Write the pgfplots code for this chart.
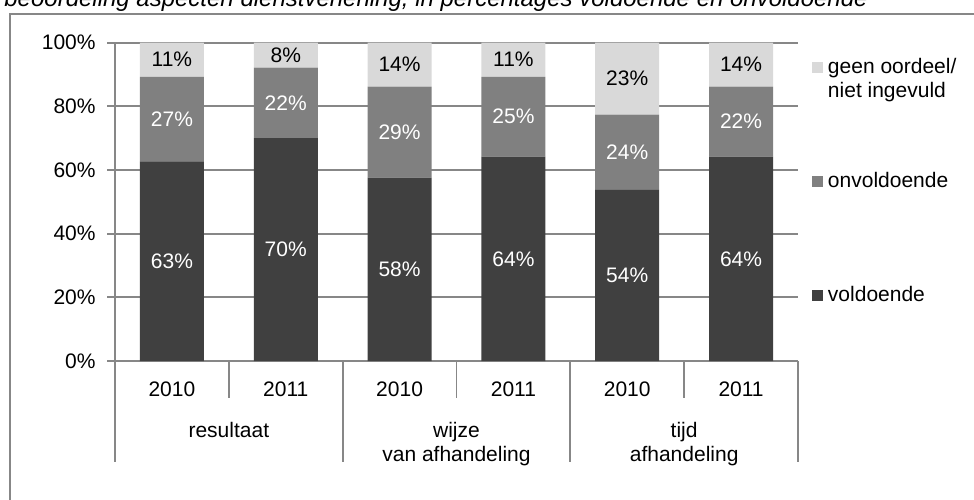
\documentclass[border=0pt]{standalone}
\usepackage{pgfplots}
\pgfplotsset{compat=1.18}
\usepackage{pgfplotstable}
\usepackage{fontspec}
\setmainfont{Liberation Sans}

\definecolor{cVold}{HTML}{404040}
\definecolor{cOnv}{HTML}{808080}
\definecolor{cGeen}{HTML}{D9D9D9}
\definecolor{cLine}{HTML}{878787}

% shares per category (voldoende, onvoldoende, geen oordeel)
\pgfplotstableread{
x  vold  onv   geen
0  62.7  26.6  10.7
1  70.0  22.2  7.8
2  57.6  28.6  13.8
3  64.2  25.1  10.7
4  53.8  23.6  22.6
5  64.2  22.0  13.8
}\data

\begin{document}
\fontsize{10.5bp}{12bp}\selectfont
\begin{tikzpicture}
\useasboundingbox (0,0) rectangle (487bp,-250bp);
\node[anchor=base west, inner sep=0pt, font=\fontsize{12bp}{14bp}\selectfont\itshape]
  at (2bp,-3bp) {beoordeling aspecten dienstverlening, in percentages voldoende en onvoldoende};
\draw[cLine, line width=1bp] (4.75bp,-270bp) -- (4.75bp,-7bp) -- (520bp,-7bp);

\begin{axis}[
  at={(57.5bp,-180.5bp)}, anchor=south west,
  scale only axis, width=341.5bp, height=159.15bp,
  ybar stacked, bar width=32bp,
  xmin=-0.5, xmax=5.5, ymin=0, ymax=100,
  clip=false,
  axis x line*=bottom, axis y line*=left,
  axis line style={cLine, line width=0.9bp},
  ymajorgrids, grid style={cLine, line width=0.9bp},
  tick align=outside, major tick length=4bp,
  tick style={cLine, line width=0.9bp},
  xtick={0,...,5}, xticklabels={2010,2011,2010,2011,2010,2011},
  xtick style={draw=none},
  xticklabel style={anchor=center, inner sep=0pt, yshift=-10bp},
  ytick={0,20,...,100},
  yticklabels={0\%,20\%,40\%,60\%,80\%,100\%},
  yticklabel style={anchor=east, inner sep=0pt, xshift=-5.5bp},
  /pgf/number format/assume math mode=true,
  nodes near coords={\pgfmathprintnumber[fixed,precision=0]{\pgfplotspointmeta}\%},
  every node near coord/.append style={anchor=center, inner sep=0pt},
  point meta=explicit,
  reverse legend,
  legend cell align=left,
  legend image code/.code={\fill[#1] (0bp,0.3bp) rectangle (5.5bp,5.8bp);},
  legend style={draw=none, fill=none, at={(1.0205,0.952)}, anchor=north west,
    inner sep=0pt, outer sep=0pt, row sep=49bp, column sep=2.5bp,
    nodes={inner sep=0pt, text depth=0pt, text height=8bp, anchor=base west}},
]
\addplot[fill=cVold, draw=none, every node near coord/.append style={text=white}]
  table[x=x, y=vold, meta=vold] {\data};
\addplot[fill=cOnv, draw=none, every node near coord/.append style={text=white}]
  table[x=x, y=onv, meta=onv] {\data};
\addplot[fill=cGeen, draw=none, every node near coord/.append style={text=black}]
  table[x=x, y=geen, meta=geen] {\data};
\legend{voldoende, onvoldoende, {\begin{tabular}[t]{@{}l@{}}geen oordeel/\\niet ingevuld\end{tabular}}}

% category separators below the axis
\pgfplotsinvokeforeach{0.5,2.5,4.5}{
  \draw[cLine, line width=0.9bp] (axis cs:#1,0) -- ([yshift=-18.5bp]axis cs:#1,0);
}
\pgfplotsinvokeforeach{-0.5,1.5,3.5,5.5}{
  \draw[cLine, line width=0.9bp] (axis cs:#1,0) -- ([yshift=-50.5bp]axis cs:#1,0);
}
\node[anchor=base, inner sep=0pt] at ([yshift=-38bp]axis cs:0.5,0) {resultaat};
\node[anchor=base, inner sep=0pt] at ([yshift=-38bp]axis cs:2.5,0)
  {\begin{tabular}[t]{@{}c@{}}wijze\\van afhandeling\end{tabular}};
\node[anchor=base, inner sep=0pt] at ([yshift=-38bp]axis cs:4.5,0)
  {\begin{tabular}[t]{@{}c@{}}tijd\\afhandeling\end{tabular}};
\end{axis}
\end{tikzpicture}
\end{document}
